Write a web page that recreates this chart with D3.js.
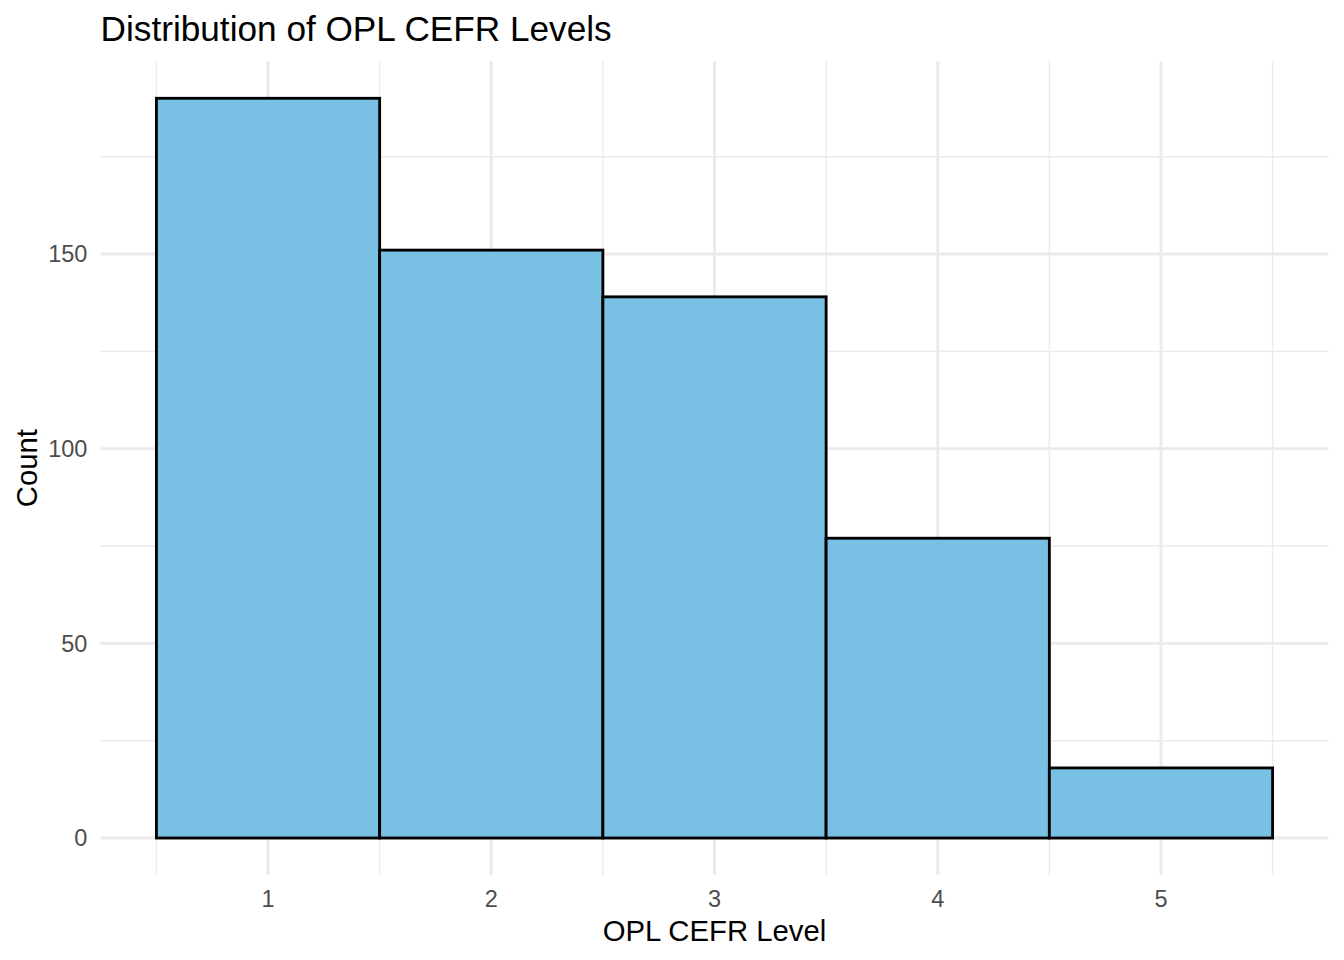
<!DOCTYPE html>
<html>
<head>
<meta charset="utf-8">
<script src="https://cdn.jsdelivr.net/npm/d3@7"></script>
<style>
  body { margin: 0; background: #fff; }
  text { font-family: "Liberation Sans", Arial, Helvetica, sans-serif; }
</style>
</head>
<body>
<svg id="chart" width="1344" height="960"></svg>
<script>
// histogram bins (CEFR level) and counts
let levels = [1, 2, 3, 4, 5]
let counts = [190, 151, 139, 77, 18]
let yTicks = [0, 50, 100, 150]
let yMinor = [25, 75, 125, 175]
let xMinor = [0.5, 1.5, 2.5, 3.5, 4.5, 5.5]

let svg = d3.select('#chart')

let panelLeft = 100.6, panelRight = 1328.4, panelTop = 61.3, panelBottom = 875

let x = d3.scaleLinear().domain([0.25, 5.75]).range([panelLeft, panelRight])
let y = d3.scaleLinear().domain([-9.5, 199.5]).range([panelBottom, panelTop])

// grid
let grid = svg.append('g')
grid.selectAll('.ymin').data(yMinor).enter().append('line')
    .attr('x1', panelLeft).attr('x2', panelRight)
    .attr('y1', d => y(d)).attr('y2', d => y(d))
    .attr('stroke', '#ebebeb').attr('stroke-width', 1.42)
grid.selectAll('.xmin').data(xMinor).enter().append('line')
    .attr('y1', panelTop).attr('y2', panelBottom)
    .attr('x1', d => x(d)).attr('x2', d => x(d))
    .attr('stroke', '#ebebeb').attr('stroke-width', 1.42)
grid.selectAll('.ymaj').data(yTicks).enter().append('line')
    .attr('x1', panelLeft).attr('x2', panelRight)
    .attr('y1', d => y(d)).attr('y2', d => y(d))
    .attr('stroke', '#ebebeb').attr('stroke-width', 2.84)
grid.selectAll('.xmaj').data(levels).enter().append('line')
    .attr('y1', panelTop).attr('y2', panelBottom)
    .attr('x1', d => x(d)).attr('x2', d => x(d))
    .attr('stroke', '#ebebeb').attr('stroke-width', 2.84)

// bars
svg.append('g').selectAll('rect')
    .data(levels)
    .enter()
    .append('rect')
    .attr('x', d => x(d - 0.5))
    .attr('width', d => x(d + 0.5) - x(d - 0.5))
    .attr('y', (d, i) => y(counts[i]))
    .attr('height', (d, i) => y(0) - y(counts[i]))
    .attr('fill', '#79c1e4')
    .attr('stroke', '#000')
    .attr('stroke-width', 2.84)

// tick labels
svg.append('g').selectAll('text')
    .data(yTicks)
    .enter()
    .append('text')
    .attr('x', panelLeft - 13.2)
    .attr('y', d => y(d))
    .attr('dy', '0.36em')
    .attr('text-anchor', 'end')
    .attr('font-size', 23.5)
    .attr('fill', '#4d4d4d')
    .text(d => d)

svg.append('g').selectAll('text')
    .data(levels)
    .enter()
    .append('text')
    .attr('x', d => x(d))
    .attr('y', 907)
    .attr('text-anchor', 'middle')
    .attr('font-size', 23.5)
    .attr('fill', '#4d4d4d')
    .text(d => d)

// titles
svg.append('text')
    .attr('x', (panelLeft + panelRight) / 2)
    .attr('y', 941)
    .attr('text-anchor', 'middle')
    .attr('font-size', 29.3)
    .text('OPL CEFR Level')

svg.append('text')
    .attr('transform', 'translate(37,' + ((panelTop + panelBottom) / 2) + ') rotate(-90)')
    .attr('text-anchor', 'middle')
    .attr('font-size', 29.3)
    .text('Count')

svg.append('text')
    .attr('x', panelLeft)
    .attr('y', 40.5)
    .attr('font-size', 35.2)
    .text('Distribution of OPL CEFR Levels')
</script>
</body>
</html>
